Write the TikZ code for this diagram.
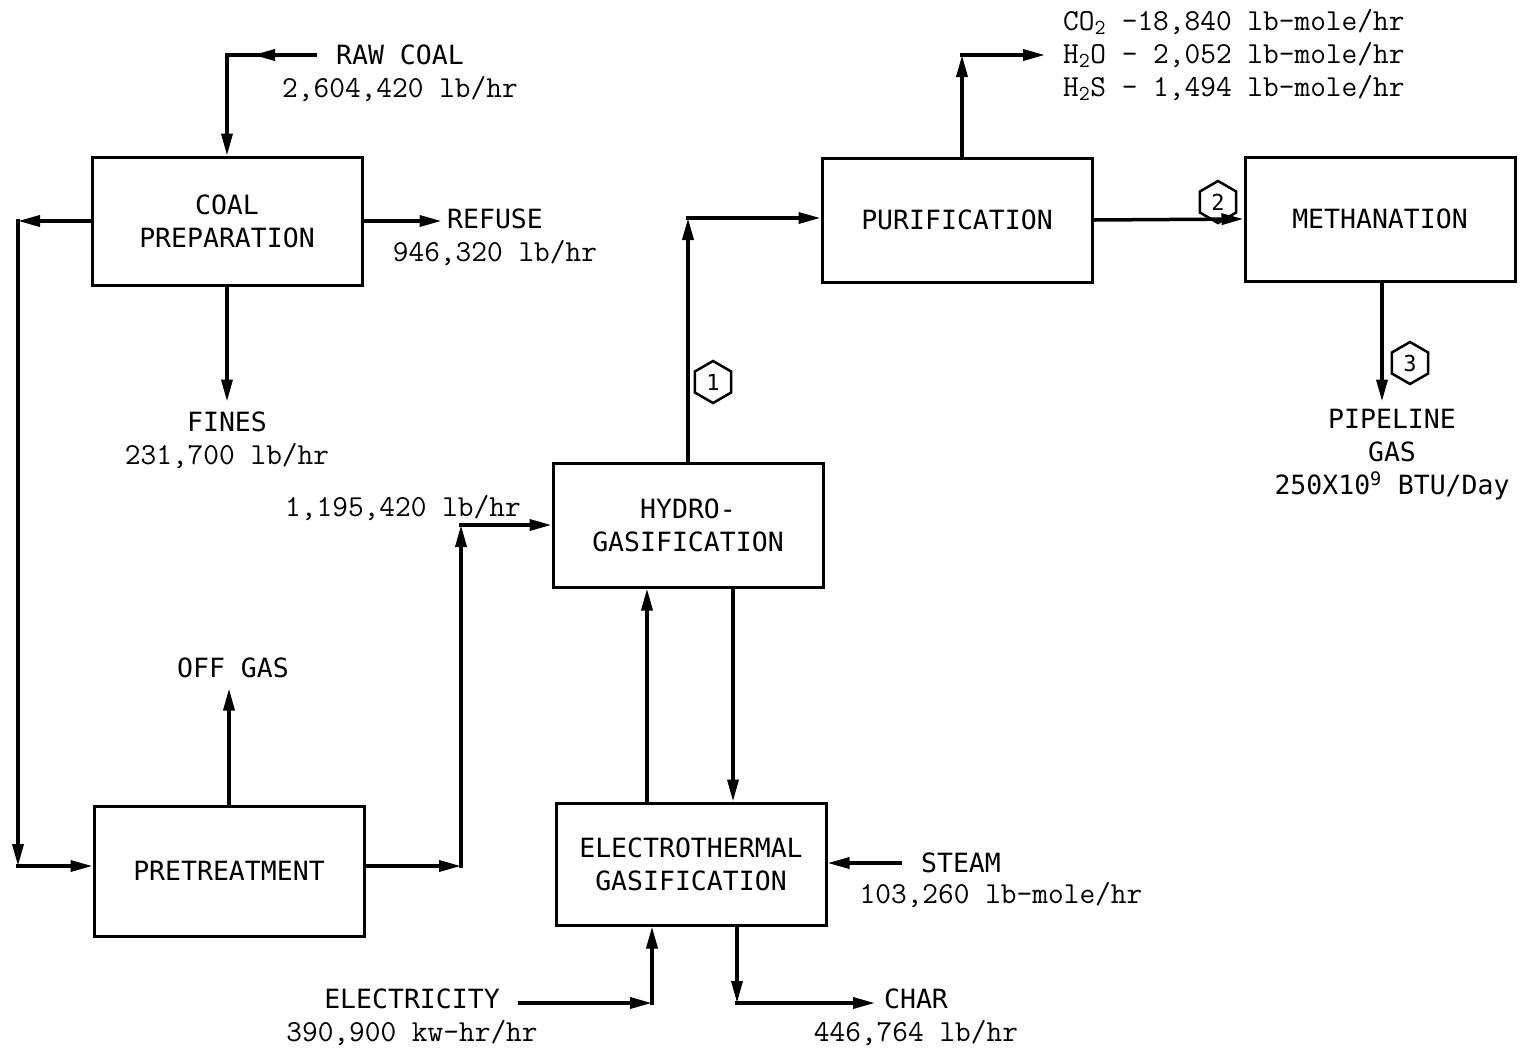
\documentclass[tikz,border=0pt]{standalone}
\usepackage{fontspec}
\usepackage{tikz}
\usetikzlibrary{arrows.meta,positioning,calc,shapes.geometric}
\newfontfamily\boxfont{DejaVu Sans Mono}

\begin{document}
\begin{tikzpicture}[x=1pt,y=-1pt,box/.style={draw,line width=3pt,align=center,minimum width=270pt,minimum height=124pt,font=\boxfont\fontsize{26.5}{33}\selectfont},lbl/.style={align=center,inner sep=0pt,font=\ttfamily\fontsize{30.5}{33}\selectfont},lblname/.style={lbl,font=\boxfont\fontsize{26.5}{33}\selectfont},flow/.style={line width=3.5pt,line cap=rect,-{Triangle[length=22pt,width=11pt]}},tag/.style={draw,regular polygon,regular polygon sides=6,shape border rotate=30,line width=2.5pt,inner sep=0pt,minimum size=42pt,font=\boxfont\fontsize{22}{22}\selectfont}]
\useasboundingbox (0,0) rectangle (1526,1050);
% process blocks
\node[box,minimum height=128pt] (prep) at (227,221) {COAL\\PREPARATION};
\node[box,minimum height=130pt] (pretreat) at (229,871) {PRETREATMENT};
\node[box] (hydro) at (688,525) {HYDRO-\\GASIFICATION};
\node[box,minimum height=122pt] (electro) at (691,864) {ELECTROTHERMAL\\GASIFICATION};
\node[box] (purif) at (957,220) {PURIFICATION};
\node[box] (meth) at (1380,219) {METHANATION};
% stream labels
\node[lbl] (raw) at (400,73) {{\boxfont\fontsize{26.5}{33}\selectfont RAW COAL}\\2,604,420 lb/hr};
\node[lbl] (refuse) at (495,237) {{\boxfont\fontsize{26.5}{33}\selectfont REFUSE}\\946,320 lb/hr};
\node[lbl] (fines) at (227,440) {{\boxfont\fontsize{26.5}{33}\selectfont FINES}\\231,700 lb/hr};
\node[lblname] (offgas) at (233,668) {OFF GAS};
\node[lbl] (feed) at (403,508) {1,195,420 lb/hr};
\node[lbl] (elec) at (412,1017) {{\boxfont\fontsize{26.5}{33}\selectfont ELECTRICITY}\\390,900 kw-hr/hr};
\node[lbl] (char) at (916,1017) {{\boxfont\fontsize{26.5}{33}\selectfont CHAR}\\446,764 lb/hr};
\node[lblname] (steam) at (961,863) {STEAM};
\node[lbl] (steamrate) at (1001,895) {103,260 lb-mole/hr};
\node[lbl,align=left,anchor=west] (acid) at (1063,55) {CO\textsubscript{2} -18,840 lb-mole/hr\\H\textsubscript{2}O - 2,052 lb-mole/hr\\H\textsubscript{2}S - 1,494 lb-mole/hr};
\node[lblname] (pipe) at (1392,455) {PIPELINE\\GAS\\250X10\textsuperscript{9} BTU/Day};
% stream numbers
\node[tag] (s1) at (713,382) {1};
\node[tag] (s2) at (1218,202) {2};
\node[tag] (s3) at (1410,363) {3};
% corners and free ends
\coordinate (rawin) at (315,55);
\coordinate (rawc) at (225,55);
\coordinate (lt) at (18,221);
\coordinate (lb) at (18,866);
\coordinate (hf) at (461,866);
\coordinate (ht) at (461,525);
\coordinate (hp) at (688,218);
\coordinate (pu) at (962,55);
\coordinate (acidout) at (1045,55);
\coordinate (elin) at (520,1003);
\coordinate (ec) at (652,1003);
\coordinate (cc) at (737,1003);
\coordinate (charout) at (875,1003);
\coordinate (steamin) at (900,863);
% flows
\draw[flow] (rawin) -- ($(rawc)+(28,0)$);
\draw[flow] (rawin) -| (prep.north);
\draw[flow] (prep.east) -- ++(78,0);
\draw[flow] (prep.south) -- ++(0,115);
\draw[flow] (prep.west) -- (lt);
\draw[flow] (lt) -- (lb);
\draw[flow] (lb) -- (lb -| pretreat.west);
\draw[flow] (pretreat.north) -- ++(0,-116);
\draw[flow] (hf -| pretreat.east) -- (hf);
\draw[flow] (hf) -- (ht);
\draw[flow] (ht) -- (hydro.west);
\draw[flow] (hydro.north) -- (hp);
\draw[flow] (hp) -- (hp -| purif.west);
\draw[flow] (purif.east) -- (meth.west);
\draw[flow] (pu |- purif.north) -- (pu);
\draw[flow] (pu) -- (acidout);
\draw[flow] ([xshift=2pt]meth.south) -- ++(0,119);
\draw[flow] ([xshift=-44pt]electro.north) -- ([xshift=-44pt]electro.north |- hydro.south);
\draw[flow] ([xshift=45pt]hydro.south) -- ([xshift=45pt]hydro.south |- electro.north);
\draw[flow] (elin) -- (ec);
\draw[flow] (ec) -- (ec |- electro.south);
\draw[flow] (cc |- electro.south) -- (cc);
\draw[flow] (cc) -- (charout);
\draw[flow] (steamin) -- (steamin -| electro.east);
\end{tikzpicture}
\end{document}
